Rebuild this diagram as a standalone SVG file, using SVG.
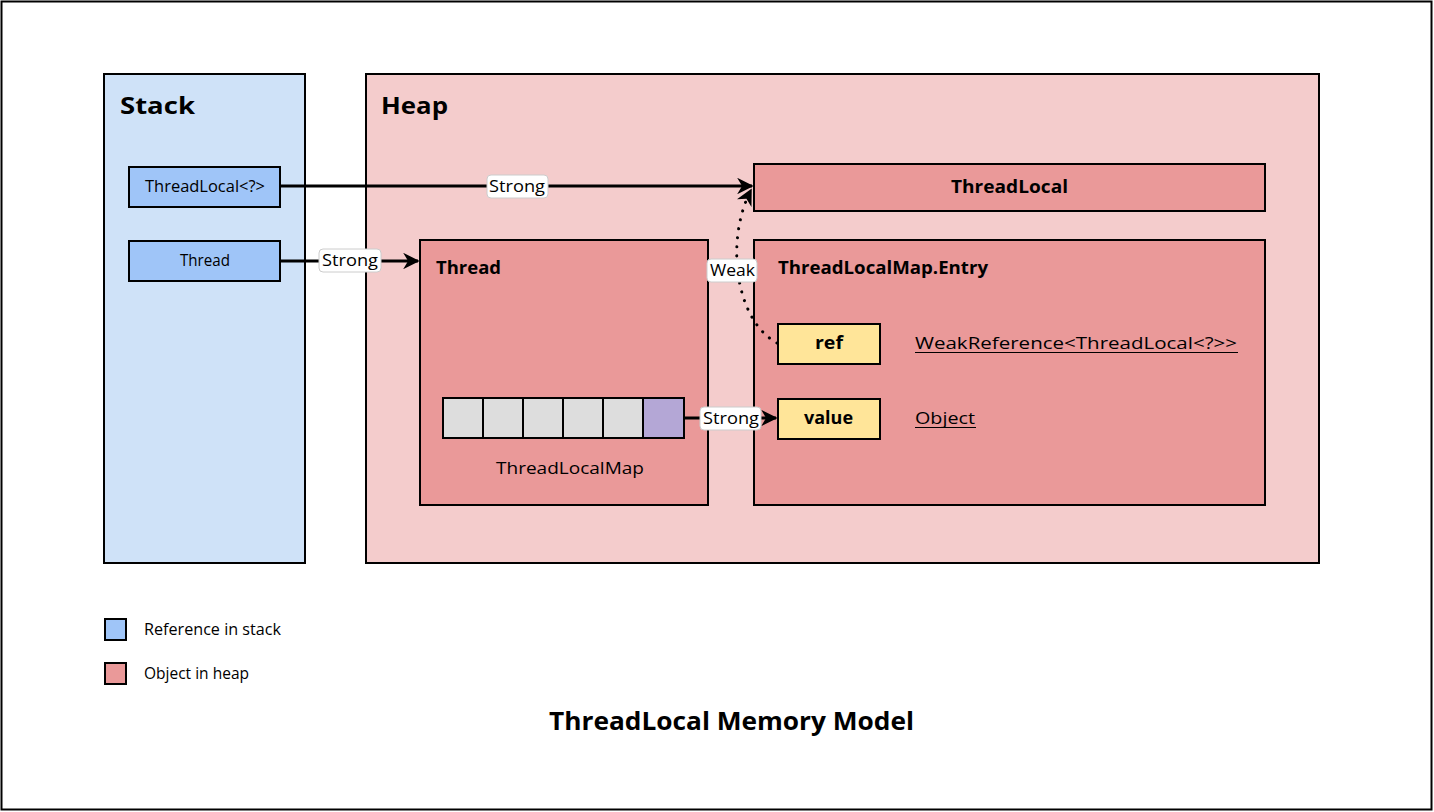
<svg xmlns="http://www.w3.org/2000/svg" width="1434" height="812" viewBox="0 0 1434 812">
<defs>
<style>
.b{stroke:#000;stroke-width:2}
.t{font-family:"Open Sans","Liberation Sans",sans-serif;fill:#000}
.n{font-size:15.5px}
.h{font-size:24px;font-weight:bold}
.bd{font-size:17px;font-weight:bold}
.lbl{fill:#fff;stroke:#ccc;stroke-width:1}
.ln{stroke:#000;stroke-width:3;fill:none}
</style>
<marker id="ah" viewBox="0 0 10 10" refX="9" refY="5" markerWidth="5.5" markerHeight="5.5" orient="auto" markerUnits="strokeWidth">
<path d="M0,0 L10,5 L0,10 L3,5 Z" fill="#000"/>
</marker>
</defs>
<rect x="0" y="0" width="1434" height="812" fill="#fff"/>
<rect x="1.5" y="1.5" width="1430" height="808" fill="none" class="b"/>
<g id="stack">
<rect x="104" y="74" width="201" height="489" fill="#cfe2f8" class="b"/>
<text x="120" y="114" class="t h" textLength="75" lengthAdjust="spacingAndGlyphs">Stack</text>
</g>
<g id="heap">
<rect x="366" y="74" width="953" height="489" fill="#f4cccc" class="b"/>
<text x="381" y="114" class="t h" textLength="67" lengthAdjust="spacingAndGlyphs">Heap</text>
</g>
<g id="stack-threadlocal">
<rect x="129" y="167" width="151" height="40" fill="#9fc5f8" class="b"/>
<text x="145" y="192" class="t n" textLength="120" lengthAdjust="spacingAndGlyphs">ThreadLocal&lt;?&gt;</text>
</g>
<g id="stack-thread">
<rect x="129" y="241" width="151" height="40" fill="#9fc5f8" class="b"/>
<text x="180" y="266" class="t n" textLength="50" lengthAdjust="spacingAndGlyphs">Thread</text>
</g>
<g id="heap-threadlocal">
<rect x="754" y="164" width="511" height="47" fill="#ea9999" class="b"/>
<text x="951" y="193" class="t bd" textLength="117" lengthAdjust="spacingAndGlyphs">ThreadLocal</text>
</g>
<g id="heap-thread">
<rect x="420" y="240" width="288" height="265" fill="#ea9999" class="b"/>
<text x="436" y="274" class="t bd" textLength="65" lengthAdjust="spacingAndGlyphs">Thread</text>
</g>
<g id="threadlocalmap">
<rect x="443" y="398" width="40" height="40" fill="#dddddd" class="b"/>
<rect x="483" y="398" width="40" height="40" fill="#dddddd" class="b"/>
<rect x="523" y="398" width="40" height="40" fill="#dddddd" class="b"/>
<rect x="563" y="398" width="40" height="40" fill="#dddddd" class="b"/>
<rect x="603" y="398" width="40" height="40" fill="#dddddd" class="b"/>
<rect x="643" y="398" width="41" height="40" fill="#b4a7d6" class="b"/>
<text x="496" y="474" class="t" font-size="17" textLength="148" lengthAdjust="spacingAndGlyphs">ThreadLocalMap</text>
</g>
<g id="entry">
<rect x="754" y="240" width="511" height="265" fill="#ea9999" class="b"/>
<text x="778" y="274" class="t bd" textLength="210" lengthAdjust="spacingAndGlyphs">ThreadLocalMap.Entry</text>
</g>
<g id="ref">
<rect x="778" y="324" width="102" height="40" fill="#ffe599" class="b"/>
<text x="815" y="349" class="t bd" textLength="28" lengthAdjust="spacingAndGlyphs">ref</text>
</g>
<g id="value">
<rect x="778" y="399" width="102" height="40" fill="#ffe599" class="b"/>
<text x="804" y="424" class="t bd" textLength="49" lengthAdjust="spacingAndGlyphs">value</text>
</g>
<g id="ref-type">
<text x="915" y="349" class="t" font-size="17" textLength="322" lengthAdjust="spacingAndGlyphs">WeakReference&lt;ThreadLocal&lt;?&gt;&gt;</text>
<line x1="915" y1="352.5" x2="1238" y2="352.5" stroke="#000" stroke-width="1.2"/>
</g>
<g id="value-type">
<text x="915" y="424" class="t" font-size="17" textLength="60" lengthAdjust="spacingAndGlyphs">Object</text>
<line x1="915" y1="427.5" x2="976" y2="427.5" stroke="#000" stroke-width="1.2"/>
</g>
<g id="connectors">
<line x1="280" y1="186" x2="752" y2="186" class="ln" marker-end="url(#ah)"/>
<line x1="280" y1="261" x2="418" y2="261" class="ln" marker-end="url(#ah)"/>
<line x1="684" y1="418" x2="776" y2="418" class="ln" marker-end="url(#ah)"/>
<path d="M777,343 C735,320 725,240 751,190" stroke="#000" stroke-width="3" fill="none" stroke-dasharray="0.1 9" stroke-linecap="round" marker-end="url(#ah)"/>
<rect x="487" y="175" width="61" height="23" rx="4" class="lbl"/>
<text x="489" y="192" class="t n" textLength="56" lengthAdjust="spacingAndGlyphs">Strong</text>
<rect x="319" y="249" width="62" height="23" rx="4" class="lbl"/>
<text x="322" y="266" class="t n" textLength="56" lengthAdjust="spacingAndGlyphs">Strong</text>
<rect x="700" y="407" width="61" height="23" rx="4" class="lbl"/>
<text x="703" y="424" class="t n" textLength="56" lengthAdjust="spacingAndGlyphs">Strong</text>
<rect x="707" y="259" width="50" height="23" rx="4" class="lbl"/>
<text x="710" y="276" class="t n" textLength="45" lengthAdjust="spacingAndGlyphs">Weak</text>
</g>
<g id="legend">
<rect x="105" y="619" width="21" height="21" fill="#9fc5f8" class="b"/>
<text x="144" y="635" class="t n" textLength="137" lengthAdjust="spacingAndGlyphs">Reference in stack</text>
<rect x="105" y="663" width="21" height="21" fill="#ea9999" class="b"/>
<text x="144" y="679" class="t n" textLength="105" lengthAdjust="spacingAndGlyphs">Object in heap</text>
</g>
<g id="title">
<text x="549" y="730" class="t" font-size="25" font-weight="bold" textLength="365" lengthAdjust="spacingAndGlyphs">ThreadLocal Memory Model</text>
</g>
</svg>
